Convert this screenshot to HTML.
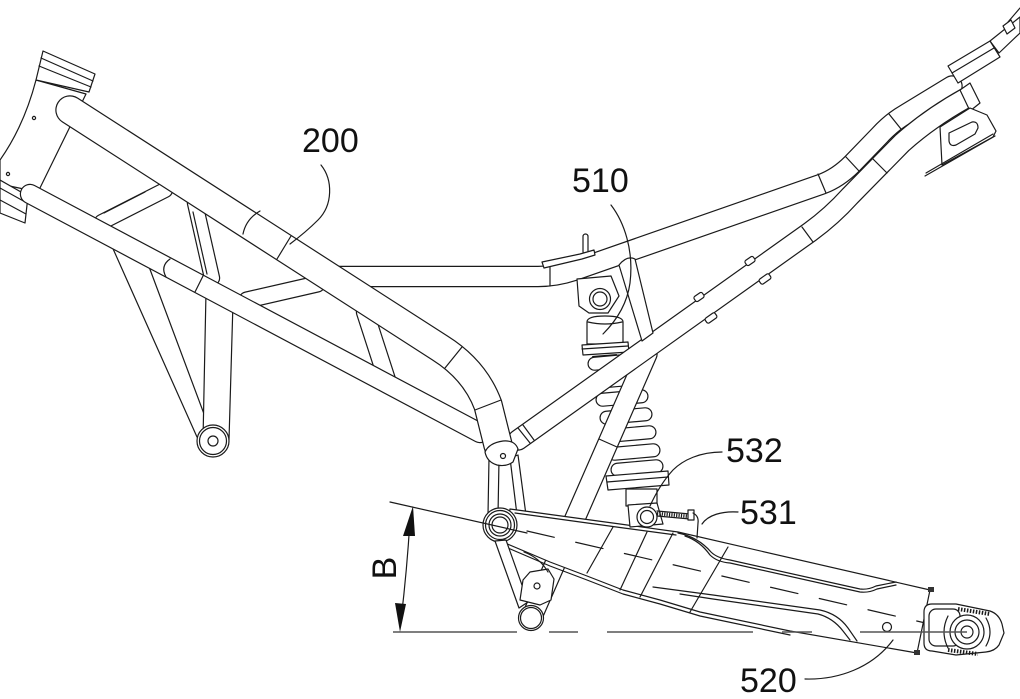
<!DOCTYPE html>
<html><head><meta charset="utf-8"><style>
html,body{margin:0;padding:0;background:#fff;}
svg{display:block}
.l{fill:none;stroke:#1a1a1a;stroke-width:1.2;stroke-linecap:round;stroke-linejoin:round}
.w{fill:#fff;stroke:#1a1a1a;stroke-width:1.2;stroke-linejoin:round}
.tb{fill:none;stroke:#1a1a1a;stroke-linecap:round;stroke-linejoin:round}
.tw{fill:none;stroke:#fff;stroke-linecap:round;stroke-linejoin:round}
text{font-family:"Liberation Sans",Arial,sans-serif;font-size:34px;fill:#111}
</style></head><body>
<svg width="1020" height="699" viewBox="0 0 1020 699" xmlns="http://www.w3.org/2000/svg">
<rect width="1020" height="699" fill="#fff"/>

<!-- upper rear tube (horizontal + rising rail) -->
<path class="tb" stroke-width="21.4" d="M318,276.5 L538,276.5 Q556,276.5 574,270.5 L822,184 Q838,178 852,164 L880,135 Q892,122 906,114 L952,86"/>
<path class="tw" stroke-width="19" d="M318,276.5 L538,276.5 Q556,276.5 574,270.5 L822,184 Q838,178 852,164 L880,135 Q892,122 906,114 L952,86"/>
<line class="l" x1="550" y1="267" x2="550" y2="286"/>
<path class="l" d="M818,174 L826,193 M846,157 L859,171 M889,114 L901,129"/>
<!-- top right rod and block -->
<path class="w" d="M990,41 L1020,17 L1020,33 L999,53 Z"/>
<path class="w" d="M1003,26 L1011,20 L1015,28 L1007,34 Z"/>
<path class="l" d="M1008,22 L1020,8"/>
<path class="w" d="M948,66 L990,41 L1000,57 L958,83 Z"/>
<path class="l" d="M952,73 L994,48"/>

<!-- shock absorber -->
<path class="w" d="M577,279 L611,276 L619,296 L608,313 L589,313 L579,306 Z"/>
<circle class="w" cx="600" cy="299" r="10.5" stroke-width="1.7"/>
<circle class="l" cx="600" cy="299" r="7"/>
<path class="w" d="M587,344 L587,322 Q587,316 605,316 Q623,316 623,322 L623,344 Z"/>
<path class="l" d="M588,322 Q605,326 622,322"/>
<path class="w" d="M582,345 L628,342 L629,352 L583,355 Z" stroke-width="1.5"/>
<path class="l" d="M582,349 L628,346"/>
<path d="M592,356 L617,354 L613,367 L598,371 Z" fill="#111"/>
<rect class="w" x="588" y="355.5" width="52" height="13" rx="6.5" transform="rotate(-5 614 362)"/>
<rect class="w" x="592" y="373.5" width="52" height="13" rx="6.5" transform="rotate(-5 618 380)"/>
<rect class="w" x="596" y="391.5" width="52" height="13" rx="6.5" transform="rotate(-5 622 398)"/>
<rect class="w" x="600" y="409.5" width="52" height="13" rx="6.5" transform="rotate(-5 626 416)"/>
<rect class="w" x="604" y="427.5" width="52" height="13" rx="6.5" transform="rotate(-5 630 434)"/>
<rect class="w" x="608" y="445.5" width="52" height="13" rx="6.5" transform="rotate(-5 634 452)"/>
<rect class="w" x="611" y="461.5" width="52" height="13" rx="6.5" transform="rotate(-5 637 468)"/>
<path class="w" d="M606,476 L668,471 L669,485 L608,490 Z"/>
<path class="l" d="M607,482 L668,477"/>
<rect class="w" x="626" y="489" width="31" height="17"/>

<!-- rising tube -->
<path class="tb" stroke-width="21.4" d="M534,612 L647,354"/>
<path class="tw" stroke-width="19" d="M534,612 L647,354"/>
<path class="l" d="M599,439 L617,447"/>

<!-- lower rear tube -->
<path class="tb" stroke-width="21.4" d="M518,440 L810,232 Q832,216 850,196 L902,143 Q930,118 966,98"/>
<path class="tw" stroke-width="19" d="M518,440 L810,232 Q832,216 850,196 L902,143 Q930,118 966,98"/>
<path class="l" d="M518,428 L530,443 M523,425 L534,440 M802,227 L813,242 M873,159 L887,173"/>
<path class="w" d="M960,90 L970,83 L980,103 L970,111 Z"/>
<!-- tabs -->
<rect class="w" x="745" y="258" width="10" height="6" rx="2" transform="rotate(-35 750 261)"/>
<rect class="w" x="759" y="276" width="12" height="6" rx="2" transform="rotate(-35 765 279)"/>
<rect class="w" x="694" y="294" width="10" height="6" rx="2" transform="rotate(-35 699 297)"/>
<rect class="w" x="705" y="315" width="12" height="6" rx="2" transform="rotate(-35 711 318)"/>

<!-- shock tower plate, tab, flange -->
<path class="w" d="M619,265 Q627,255 635,259 L653,333 L642,341 Z"/>
<rect class="w" x="583" y="234" width="5" height="20" rx="2.5"/>
<path class="w" d="M542,262 L580,254 L594,250 L595,255 L582,259 L544,268 Z"/>

<!-- mudguard bracket -->
<path class="w" d="M940,127 L970,108 L987,115 L996,131 L993,137 L942,165 Z"/>
<path class="l" d="M925,176 L995,136 M926,173 L993,134"/>
<path class="l" d="M949,133 L972,122 Q978,121 978,128 L975,134 L956,145 Q950,147 949,141 Z"/>

<!-- head tube -->
<path class="w" d="M36,80 L86,94 L38,192 L0,184 L0,160 Q24,126 36,80 Z"/>
<path class="w" d="M43,51 L95,74 L89,92 L36,80 Z"/>
<path class="l" d="M41,58 L93,81 M39,66 L91,87"/>
<path class="w" d="M0,180 L28,196 L25,223 L0,213 Z"/>
<path class="l" d="M0,188 L27,203 M0,200 L26,214"/>
<circle class="l" cx="34" cy="118" r="1.6"/>
<circle class="l" cx="8" cy="174" r="1.6"/>

<!-- legs -->
<path class="w" d="M110,242 L145,256 L210,430 L197,437 Z"/>
<path class="w" d="M206,292 L233,302 L229,440 L203,440 Z"/>
<circle class="w" cx="213" cy="441" r="16" stroke-width="1.6"/>
<circle class="l" cx="213" cy="441" r="13.5"/>
<circle class="l" cx="213" cy="441" r="5"/>

<!-- braces -->
<path class="tb" stroke-width="16.4" d="M102,222 L165,190"/>
<path class="tw" stroke-width="14" d="M102,222 L165,190"/>
<path class="l" d="M104,213 L145,192" stroke-width="2.2"/>
<path class="tb" stroke-width="16.4" d="M195,203 L212,278"/>
<path class="tw" stroke-width="14" d="M195,203 L212,278"/>
<path class="l" d="M193,212 L207,274"/>
<path class="tb" stroke-width="17.4" d="M247,300 L317,284"/>
<path class="tw" stroke-width="15" d="M247,300 L317,284"/>
<path class="tb" stroke-width="18.4" d="M365,312 L387,380"/>
<path class="tw" stroke-width="16" d="M365,312 L387,380"/>

<!-- lower main tube -->
<path class="tb" stroke-width="20.4" d="M30,194 L480,433"/>
<path class="tw" stroke-width="18" d="M30,194 L480,433"/>
<path class="l" d="M203,276 L195,292 M166,277 Q160,266 170,259"/>

<!-- top main tube -->
<path class="tb" stroke-width="29.4" d="M70,110 L440,348 Q475,370 488,405 L498,445"/>
<path class="tw" stroke-width="27" d="M70,110 L440,348 Q475,370 488,405 L498,445"/>
<path class="l" d="M243,234 Q246,219 260,211 M277,259 L291,236 M462,347 L445,368 M501,400 L475,410"/>

<!-- links from joint to pivot -->
<path class="w" d="M489,458 L499,460 L498,515 L488,515 Z"/>
<path class="w" d="M510,458 L518,455 L526,515 L517,515 Z"/>
<!-- joint bracket -->
<path class="w" d="M485,452 Q489,443 503,441 Q515,440 518,449 L513,462 Q506,467 497,465 Q487,462 485,452 Z"/>
<circle class="l" cx="503" cy="456" r="2.5"/>

<!-- swingarm -->
<path class="w" d="M510,509 L620,524 L678,532 L930,590 L917,653 L790,631 L700,612 L660,600 L623,590 L587,576 L550,562 L505,543 Z"/>
<path class="l" d="M515,513 L620,527.5 L676,535"/>
<path class="l" d="M508,548 L550,566 L587,580 L623,594 L660,604 L700,616 L790,635"/>
<path class="l" d="M678,533 Q698,537 711,552 Q717,558 730,560 L860,589 Q868,590 876,586 L896,582"/>
<path class="l" d="M685,536 Q700,541 710,555 Q717,562 730,563 L860,592 Q869,593 877,589 L896,585"/>
<path class="l" d="M653,587 L713,595 L820,610 Q838,614 848,628 L857,641"/>
<path class="l" d="M680,594 L713,599 L818,614 Q833,618 843,631 L850,640"/>
<path class="l" d="M587,573 L613,527 M620,590 L647,532 M640,597 L673,533 M690,612 L728,547"/>
<path class="l" d="M527,531 L960,631" stroke-dasharray="28 22"/>
<circle class="l" cx="887" cy="627" r="4.5"/>
<rect x="928" y="587" width="6" height="5" fill="#333"/>
<rect x="914" y="650" width="6" height="5" fill="#333"/>

<!-- axle / chain adjuster -->
<path class="w" d="M924,612 Q924,604 932,604 L956,604 L990,611 Q999,614 1002,624 L1004,633 L999,645 Q995,651 986,652 L956,655 L932,651 Q924,651 924,643 Z" stroke-width="1.5"/>
<rect class="l" x="929" y="609" width="31" height="37" rx="7"/>
<path class="l" d="M948,616 Q940,632 948,648 M986,618 Q994,632 986,646"/>
<path d="M958,609 L990,614" stroke="#1a1a1a" stroke-width="4" stroke-dasharray="1.5 1.5" fill="none"/>
<path d="M948,650 L978,654" stroke="#1a1a1a" stroke-width="4" stroke-dasharray="1.5 1.5" fill="none"/>
<circle class="w" cx="967" cy="632" r="17"/>
<circle class="l" cx="967" cy="632" r="12"/>
<circle class="l" cx="967" cy="632" r="6"/>

<!-- pivot, lower link, bracket, lower eye -->
<circle class="w" cx="500" cy="525" r="17" stroke-width="1.6"/>
<circle class="l" cx="500" cy="525" r="14.5"/>
<circle class="l" cx="500" cy="525" r="11" stroke-width="1.4"/>
<circle class="l" cx="500" cy="525" r="8"/>
<path class="w" d="M495,541 L506,540 L528,602 L519,608 Z"/>
<path class="w" d="M520,600 L523,580 L530,572 L548,569 L554,579 L551,600 L540,605 Z"/>
<circle class="l" cx="537" cy="586" r="3"/>
<path class="l" d="M524,552 Q540,558 548,572"/>
<circle class="w" cx="531" cy="618" r="12.5" stroke-width="1.4"/>
<circle class="l" cx="531" cy="618" r="10.5"/>

<!-- shock lower clevis, eye, 531 link -->
<path class="w" d="M628,505 L657,503 L663,524 L630,527 Z"/>
<path d="M657,513.5 L690,516.5" stroke="#1a1a1a" stroke-width="3.5" stroke-dasharray="1.2 1.2" fill="none"/>
<path class="l" d="M657,511 L690,514 M657,516 L690,519"/>
<rect class="w" x="688" y="510" width="6" height="10"/>
<path class="l" d="M693,513 Q699,516 698,523 L697,538"/>
<circle class="w" cx="647" cy="517" r="10" stroke-width="1.7"/>
<circle class="l" cx="647" cy="517" r="6.5"/>

<!-- dimension B -->
<path class="l" d="M390,502 L527,533" stroke-width="1"/>
<path d="M393,632 L517,632 M549,632 L578,632 M607,632 L753,632 M782,632 L812,632 M860,632 L967,632" stroke="#555" stroke-width="1.4" fill="none"/>
<path class="l" d="M410,520 Q407,570 401,620" stroke-width="1.1"/>
<polygon points="413,506 403,536 415,536" fill="#111"/>
<polygon points="395,603 406,604 400,632" fill="#111"/>
<text transform="translate(396,568) rotate(-90)" text-anchor="middle">B</text>

<!-- labels & leaders -->
<text x="302" y="152">200</text>
<path class="l" d="M321,165 C333,180 333,205 318,220 C308,230 298,238 290,244" stroke-width="1.1"/>
<text x="572" y="192">510</text>
<path class="l" d="M611,205 C624,222 634,250 630,283 C627,305 615,322 603,334" stroke-width="1.1"/>
<text x="726" y="462">532</text>
<path class="l" d="M722,452 C700,452 683,460 673,470 C662,482 655,495 650,506" stroke-width="1.1"/>
<text x="740" y="524">531</text>
<path class="l" d="M738,512 C722,511 708,515 702,524" stroke-width="1.1"/>
<text x="740" y="692">520</text>
<path class="l" d="M805,679 C838,680 872,668 893,640" stroke-width="1.1"/>
</svg>
</body></html>
